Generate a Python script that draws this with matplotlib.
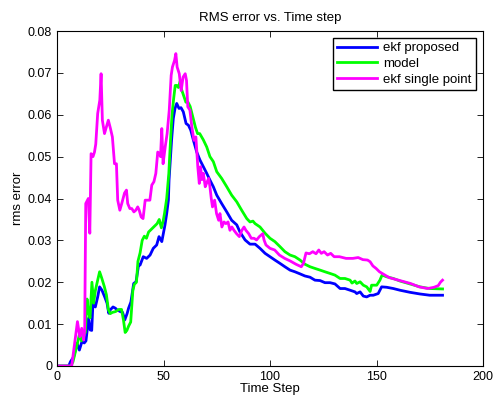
import numpy as np
from matplotlib import pyplot as plt

plt.rcParams['font.family'] = ['Liberation Sans', 'DejaVu Sans']

# ekf proposed (blue)
t_prop = [0, 5.5, 6.3, 7.8, 9.4, 10.5, 11.7, 12.8, 13.6, 14.8, 15.6, 16.3, 16.9, 18, 19.1, 20, 21.1,
          22.4, 23.5, 24.3, 25, 26.3, 27.4, 28.2, 29.7, 30.8, 31.8, 32.9, 33.6, 34.7, 36, 37.1, 38.3,
          39, 40.5, 42.1, 43.7, 45.2, 46.8, 47.9, 49.2, 50.7, 51.5, 52.3, 52.6, 53.8, 54.6, 55.4,
          56.2, 57.3, 58.2, 59.3, 60.6, 61.7, 62.8, 64, 65.6, 67.1, 68.7, 70.3, 71.8, 73.4, 75,
          77.3, 79.7, 82, 84.4, 85.9, 88.3, 90.6, 93, 95.3, 97.7, 100, 102.3, 104.7, 107, 109.4,
          111.7, 114.1, 116.4, 118.8, 121.1, 123.5, 125.8, 128.2, 130.5, 132.9, 135.2, 137.6,
          139.9, 140.7, 142.3, 143.8, 145.4, 147, 148.5, 150.8, 152.4, 154.8, 157.9, 161, 165.7,
          170.4, 175, 181]
rms_prop = [0, 0, 0.001, 0.0022, 0.0054, 0.0038, 0.0058, 0.0055, 0.006, 0.0114, 0.0086, 0.0085,
            0.0153, 0.0141, 0.0165, 0.0189, 0.0181, 0.0165, 0.015, 0.0126, 0.0134, 0.0141, 0.0138,
            0.0134, 0.013, 0.0128, 0.011, 0.0125, 0.0138, 0.0153, 0.0197, 0.0201, 0.0241, 0.0241,
            0.0261, 0.0257, 0.0265, 0.0281, 0.0289, 0.0309, 0.0297, 0.0337, 0.0364, 0.0396, 0.0444,
            0.054, 0.0591, 0.0615, 0.0627, 0.0615, 0.0617, 0.0607, 0.0579, 0.0575, 0.0563, 0.054,
            0.0511, 0.0492, 0.0476, 0.046, 0.0444, 0.0428, 0.0408, 0.0388, 0.0368, 0.0348, 0.0337,
            0.032, 0.0301, 0.0291, 0.0291, 0.0281, 0.0269, 0.0261, 0.0253, 0.0245, 0.0237, 0.0229,
            0.0225, 0.022, 0.0215, 0.0212, 0.0205, 0.0204, 0.0199, 0.0199, 0.0196, 0.0185, 0.0185,
            0.0181, 0.0177, 0.0173, 0.0177, 0.0167, 0.0165, 0.0169, 0.0169, 0.0173, 0.0189, 0.0188,
            0.0185, 0.0181, 0.0176, 0.0172, 0.0169, 0.0169]

# model (green)
t_model = [0, 6.5, 7.5, 9.4, 10.5, 11.5, 12.5, 13.3, 14.1, 14.7, 15.5, 16.4, 17.2, 18, 19.1, 20, 21,
           22.2, 23.2, 24.1, 25, 26, 27.5, 29, 30.3, 31.2, 32, 32.8, 33.6, 34.6, 35.6, 36.3, 37.3,
           38, 39, 40, 41, 42, 43, 44, 45, 46, 47, 48, 49, 49.8, 50.5, 51.5, 52.5, 53.3, 54, 54.8,
           55.5, 56.2, 57, 57.8, 58.5, 59.5, 60.5, 61.5, 62.5, 63.5, 65, 66, 67, 68.7, 70.3, 71.8,
           73.4, 75, 77.3, 79.7, 82, 84.4, 86.7, 89.1, 90.6, 92, 93, 95.3, 97.7, 100, 102.3, 104.7,
           107, 109.4, 111.7, 114.1, 116.4, 118.8, 121.1, 123.5, 125.8, 128.2, 130.5, 132.9, 135.2,
           137.6, 138.5, 139.9, 140.7, 142.3, 143.8, 145.4, 147, 147.7, 150.1, 151.6, 152.6, 154.8,
           157.9, 161, 165.7, 170.4, 175, 181]
rms_model = [0, 0, 0.001, 0.005, 0.0075, 0.006, 0.0075, 0.008, 0.016, 0.013, 0.0115, 0.02, 0.015,
             0.018, 0.0205, 0.0225, 0.021, 0.019, 0.017, 0.0135, 0.0125, 0.0128, 0.013, 0.0135,
             0.0135, 0.011, 0.008, 0.0085, 0.0095, 0.0105, 0.018, 0.0195, 0.02, 0.025, 0.027, 0.03,
             0.031, 0.0305, 0.032, 0.0325, 0.033, 0.0335, 0.034, 0.035, 0.033, 0.0345, 0.0365, 0.04,
             0.046, 0.054, 0.06, 0.064, 0.067, 0.067, 0.0665, 0.068, 0.066, 0.0645, 0.063, 0.063,
             0.062, 0.06, 0.057, 0.0555, 0.0555, 0.054, 0.0523, 0.05, 0.0488, 0.0464, 0.0448,
             0.0428, 0.0408, 0.0392, 0.0372, 0.0352, 0.0344, 0.0346, 0.034, 0.0332, 0.0317, 0.0305,
             0.0297, 0.0285, 0.0273, 0.0265, 0.0261, 0.0253, 0.0243, 0.0237, 0.0233, 0.0229,
             0.0225, 0.0221, 0.0217, 0.0209, 0.0209, 0.0205, 0.0198, 0.0203, 0.0197, 0.0201,
             0.0193, 0.0189, 0.0178, 0.0193, 0.0193, 0.0205, 0.0217, 0.0213, 0.0209, 0.0203,
             0.0196, 0.0189, 0.0185, 0.0184]

# ekf single point (magenta)
t_single = [0, 6.9, 9.6, 10.7, 11.6, 12.5, 13.0, 13.5, 14.7, 15.4, 16.0, 16.9, 17.6, 18.2, 19.1,
            20.1, 20.7, 21.3, 22.3, 23.2, 24.1, 25.1, 26.0, 27.0, 27.9, 28.5, 29.5, 30.4, 31.7,
            32.6, 33.2, 34.2, 35.1, 36.1, 37.0, 37.9, 38.6, 39.5, 40.4, 41.4, 42.6, 43.6, 44.5,
            45.5, 46.4, 47.3, 48.0, 48.6, 49.2, 49.8, 50.8, 51.7, 52.7, 53.6, 54.2, 55.2, 55.8,
            56.4, 57.4, 58.3, 59.2, 60.2, 60.8, 61.4, 62.4, 63.3, 64.3, 65.2, 66.1, 66.8, 67.4,
            68.0, 68.7, 69.6, 70.5, 71.2, 71.8, 72.4, 73.0, 74.0, 74.9, 75.9, 76.5, 77.4, 78.4,
            79.3, 80.3, 81.2, 82.1, 83.1, 84.3, 85.6, 86.8, 87.8, 88.7, 90.0, 91.2, 92.5, 93.7,
            95.0, 95.9, 96.6, 97.2, 98.1, 100, 102.2, 104.4, 106.9, 109.4, 112.2, 114.7, 115.7,
            116.9, 118.5, 120.1, 121.6, 122.9, 124.1, 125.4, 127.0, 128.5, 130.1, 132.6, 135.7,
            138.9, 141.4, 143.6, 145.8, 147.0, 148.3, 149.8, 151.4, 153, 156, 161, 166, 170, 174,
            177, 179, 180, 181]
rms_single = [0, 0, 0.0106, 0.007, 0.009, 0.0062, 0.0086, 0.0388, 0.04, 0.0317, 0.0507, 0.05,
              0.0511, 0.053, 0.0603, 0.0635, 0.0698, 0.0587, 0.0555, 0.0571, 0.0587, 0.0567,
              0.0547, 0.0483, 0.0483, 0.0396, 0.0372, 0.0388, 0.0413, 0.042, 0.0388, 0.0376,
              0.0376, 0.0368, 0.0372, 0.038, 0.0372, 0.0356, 0.0352, 0.0396, 0.0396, 0.0396,
              0.0432, 0.044, 0.046, 0.0511, 0.0507, 0.05, 0.0567, 0.0483, 0.0523, 0.0555, 0.0611,
              0.0694, 0.0714, 0.073, 0.0746, 0.0714, 0.0698, 0.0658, 0.069, 0.0698, 0.0682,
              0.0619, 0.0611, 0.0571, 0.0539, 0.0547, 0.0476, 0.0436, 0.0476, 0.0445, 0.046,
              0.0428, 0.044, 0.0448, 0.0428, 0.0401, 0.038, 0.0396, 0.0364, 0.0348, 0.0364,
              0.0332, 0.0344, 0.034, 0.0344, 0.0324, 0.0332, 0.0324, 0.0316, 0.0309, 0.0324,
              0.0332, 0.0324, 0.0316, 0.0305, 0.0305, 0.0301, 0.0309, 0.0313, 0.0316, 0.0301,
              0.0289, 0.0281, 0.0277, 0.0265, 0.0257, 0.0251, 0.0243, 0.0237, 0.0245, 0.027,
              0.0268, 0.0273, 0.0268, 0.0277, 0.0269, 0.0273, 0.0265, 0.0269, 0.0261, 0.0261,
              0.0257, 0.0257, 0.0259, 0.0254, 0.0253, 0.0249, 0.0239, 0.0233, 0.0225, 0.022,
              0.0211, 0.0204, 0.0197, 0.0189, 0.0185, 0.0188, 0.0192, 0.02, 0.0205]

fig = plt.figure(figsize=(4.94, 4.01), dpi=100)
ax = fig.add_axes([57/494, 35/401, 426/494, 335/401])

ax.plot(t_prop, rms_prop, color=(0, 0, 1), lw=2, label="ekf proposed")
ax.plot(t_model, rms_model, color=(0, 1, 0), lw=2, label="model")
ax.plot(t_single, rms_single, color=(1, 0, 1), lw=2, label="ekf single point")

ax.set_xlim(0, 200)
ax.set_ylim(0, 0.08)
ax.set_xticks(np.arange(0, 201, 50))
ax.set_yticks(np.arange(0, 0.081, 0.01))
ax.set_yticklabels(["0", "0.01", "0.02", "0.03", "0.04", "0.05", "0.06", "0.07", "0.08"])
ax.tick_params(direction="in", top=True, right=True, labelsize=9, length=4, width=0.6)
for s in ax.spines.values():
    s.set_linewidth(0.8)

ax.set_xlabel("Time Step", fontsize=9.5, labelpad=0)
ax.set_ylabel("rms error", fontsize=9.5, labelpad=3)
ax.set_title("RMS error vs. Time step", fontsize=9.5, pad=7)

leg = ax.legend(loc="upper right", fontsize=9.5, fancybox=False, framealpha=1,
                edgecolor="black", handlelength=3.0, borderaxespad=0.5,
                labelspacing=0.25, handletextpad=0.5, borderpad=0.35)
leg.get_frame().set_linewidth(1.0)

plt.savefig("out.png", dpi=100)
